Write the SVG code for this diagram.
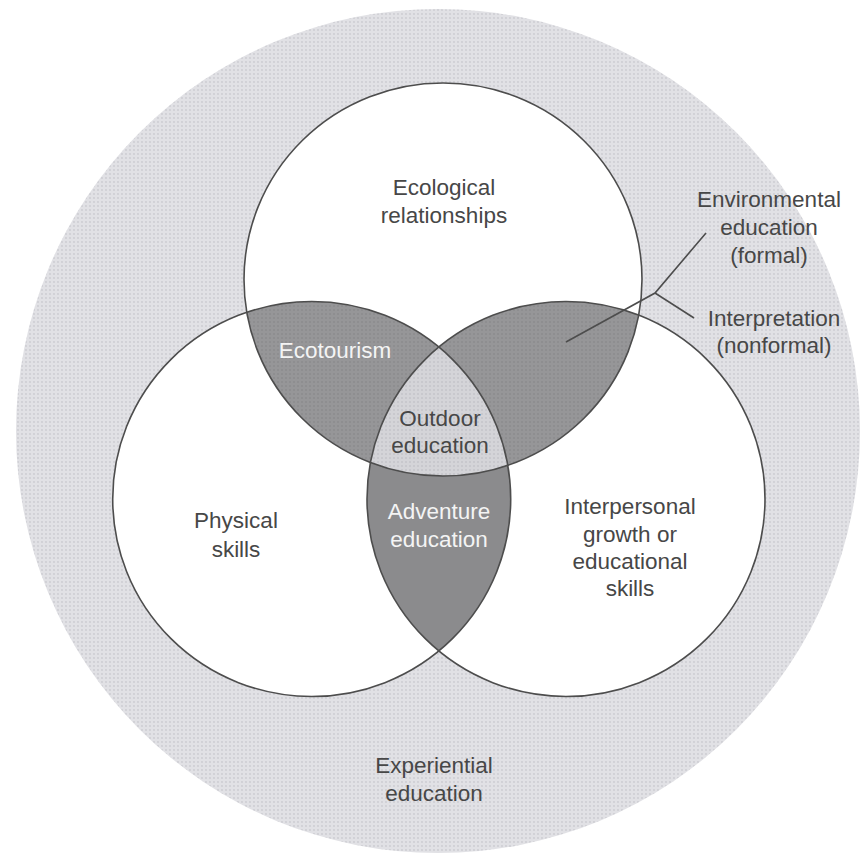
<svg xmlns="http://www.w3.org/2000/svg" width="862" height="854" viewBox="0 0 862 854">
<style>
  text { font-family: "Liberation Sans", Arial, sans-serif; font-size: 22.5px; text-anchor: middle; fill: #474747; }
  .light { fill: #f4f4f4; }
  .ring { fill: none; stroke: #4d4d4d; stroke-width: 1.6; }
  .lead { fill: none; stroke: #4d4d4d; stroke-width: 1.6; }
</style>
<defs>
  <pattern id="dots" width="4" height="4" patternUnits="userSpaceOnUse">
    <rect width="4" height="4" fill="#e1e1e5"/>
    <circle cx="2" cy="2" r="0.9" fill="#cbcbd0"/>
  </pattern>
  <pattern id="dotsDark" width="4" height="4" patternUnits="userSpaceOnUse">
    <rect width="4" height="4" fill="#969698"/>
    <circle cx="2" cy="2" r="0.9" fill="#8a8a8c"/>
  </pattern>
  <pattern id="dotsMid" width="4" height="4" patternUnits="userSpaceOnUse">
    <rect width="4" height="4" fill="#d4d4d8"/>
    <circle cx="2" cy="2" r="0.9" fill="#c3c3c8"/>
  </pattern>
  <clipPath id="clipTop"><ellipse cx="443" cy="279.5" rx="199" ry="196.5"/></clipPath>
  <clipPath id="clipLeft"><ellipse cx="311.7" cy="499" rx="199" ry="197.5"/></clipPath>
  <clipPath id="clipRight"><ellipse cx="566" cy="499" rx="199" ry="197.5"/></clipPath>
</defs>
<rect width="862" height="854" fill="#ffffff"/>

<g id="experiential-education">
  <circle cx="438" cy="431" r="422" fill="url(#dots)"/>
  <text x="434" y="773">Experiential</text>
  <text x="434" y="801">education</text>
</g>

<g id="circle-fills">
  <ellipse cx="443" cy="279.5" rx="199" ry="196.5" fill="#ffffff"/>
  <ellipse cx="311.7" cy="499" rx="199" ry="197.5" fill="#ffffff"/>
  <ellipse cx="566" cy="499" rx="199" ry="197.5" fill="#ffffff"/>
</g>

<g id="ecotourism">
  <g clip-path="url(#clipTop)"><ellipse cx="311.7" cy="499" rx="199" ry="197.5" fill="url(#dotsDark)"/></g>
  <text class="light" x="335" y="358">Ecotourism</text>
</g>

<g id="environmental-lens">
  <g clip-path="url(#clipTop)"><ellipse cx="566" cy="499" rx="199" ry="197.5" fill="url(#dotsDark)"/></g>
</g>

<g id="adventure-education">
  <g clip-path="url(#clipLeft)"><ellipse cx="566" cy="499" rx="199" ry="197.5" fill="#8b8b8d"/></g>
  <text class="light" x="439" y="519">Adventure</text>
  <text class="light" x="439" y="547">education</text>
</g>

<g id="outdoor-education">
  <g clip-path="url(#clipTop)"><g clip-path="url(#clipLeft)"><ellipse cx="566" cy="499" rx="199" ry="197.5" fill="url(#dotsMid)"/></g></g>
  <text x="440" y="426">Outdoor</text>
  <text x="440" y="453">education</text>
</g>

<g id="ecological-relationships">
  <ellipse class="ring" cx="443" cy="279.5" rx="199" ry="196.5"/>
  <text x="444" y="195">Ecological</text>
  <text x="444" y="223">relationships</text>
</g>

<g id="physical-skills">
  <ellipse class="ring" cx="311.7" cy="499" rx="199" ry="197.5"/>
  <text x="236" y="528">Physical</text>
  <text x="236" y="557">skills</text>
</g>

<g id="interpersonal-growth">
  <ellipse class="ring" cx="566" cy="499" rx="199" ry="197.5"/>
  <text x="630" y="514">Interpersonal</text>
  <text x="630" y="542">growth or</text>
  <text x="630" y="569">educational</text>
  <text x="630" y="596">skills</text>
</g>

<g id="environmental-education">
  <text x="769" y="207">Environmental</text>
  <text x="769" y="235">education</text>
  <text x="769" y="263">(formal)</text>
</g>

<g id="interpretation">
  <text x="774" y="326">Interpretation</text>
  <text x="774" y="353">(nonformal)</text>
</g>

<g id="connectors">
  <polyline class="lead" points="566,342 655,293 706,233"/>
  <line class="lead" x1="655" y1="293" x2="694" y2="318"/>
</g>
</svg>
